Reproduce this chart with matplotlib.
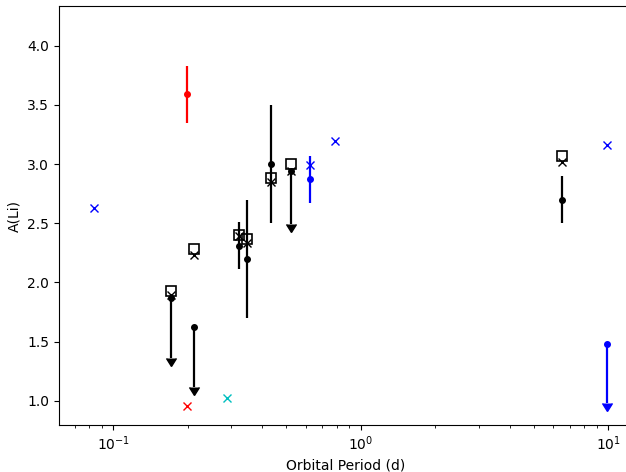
import matplotlib
matplotlib.use("Agg")
import matplotlib.pyplot as plt
import numpy as np

# black sample: model predictions (squares, crosses) and measured A(Li)
blk_period = [0.171, 0.2125, 0.323, 0.347, 0.435, 0.521, 6.48]
blk_model_sq = [1.93, 2.28, 2.40, 2.37, 2.88, 3.00, 3.07]
blk_model_x = [1.89, 2.23, 2.39, 2.33, 2.85, 2.94, 3.02]
blk_ali = [1.865, 1.62, 2.31, 2.20, 3.00, 2.94, 2.70]
blk_err = [0.5, 0.5, 0.2, 0.5, 0.5, 0.45, 0.2]
blk_uplim = [True, True, False, False, False, True, False]

# red
red_period = [0.1985]
red_ali = [3.59]
red_err = [0.24]
red_x_period = [0.198]
red_x_ali = [0.955]

# cyan
cyan_period = [0.289]
cyan_ali = [1.025]

# blue
blue_x_period = [0.0836, 0.625, 0.789, 9.85]
blue_x_ali = [2.632, 2.99, 3.195, 3.16]
blue_period = [0.625, 9.85]
blue_ali = [2.87, 1.48]
blue_err = [0.2, 0.5]
blue_uplim = [False, True]


def measured(ax, period, ali, err, uplim, color):
    eb = ax.errorbar(period, ali, yerr=err, uplims=uplim, fmt="o",
                     color=color, ms=4, lw=1.6)
    # enlarge the arrow heads of the upper limits
    for cl in eb[1]:
        cl.set_markersize(7.5)


fig = plt.figure(figsize=(6.26, 4.72), dpi=100)
ax = fig.add_axes([59 / 626, 47 / 472, 574 / 626, 419 / 472])

measured(ax, blk_period, blk_ali, blk_err, blk_uplim, "k")
ax.plot(blk_period, blk_model_sq, "s", mfc="none", mec="k", ms=6.5, mew=1.2)
ax.plot(blk_period, blk_model_x, "x", color="k", ms=6)

measured(ax, red_period, red_ali, red_err, [False], "r")
ax.plot(red_x_period, red_x_ali, "x", color="r", ms=6)

ax.plot(cyan_period, cyan_ali, "x", color="c", ms=6)

measured(ax, blue_period, blue_ali, blue_err, blue_uplim, "b")
ax.plot(blue_x_period, blue_x_ali, "x", color="b", ms=6)

ax.set_xscale("log")
ax.set_xlim(0.0603, 12.6)
ax.set_ylim(0.795, 4.335)
ax.set_xlabel("Orbital Period (d)")
ax.set_ylabel("A(Li)")

fig.savefig("out.png", dpi=100)
